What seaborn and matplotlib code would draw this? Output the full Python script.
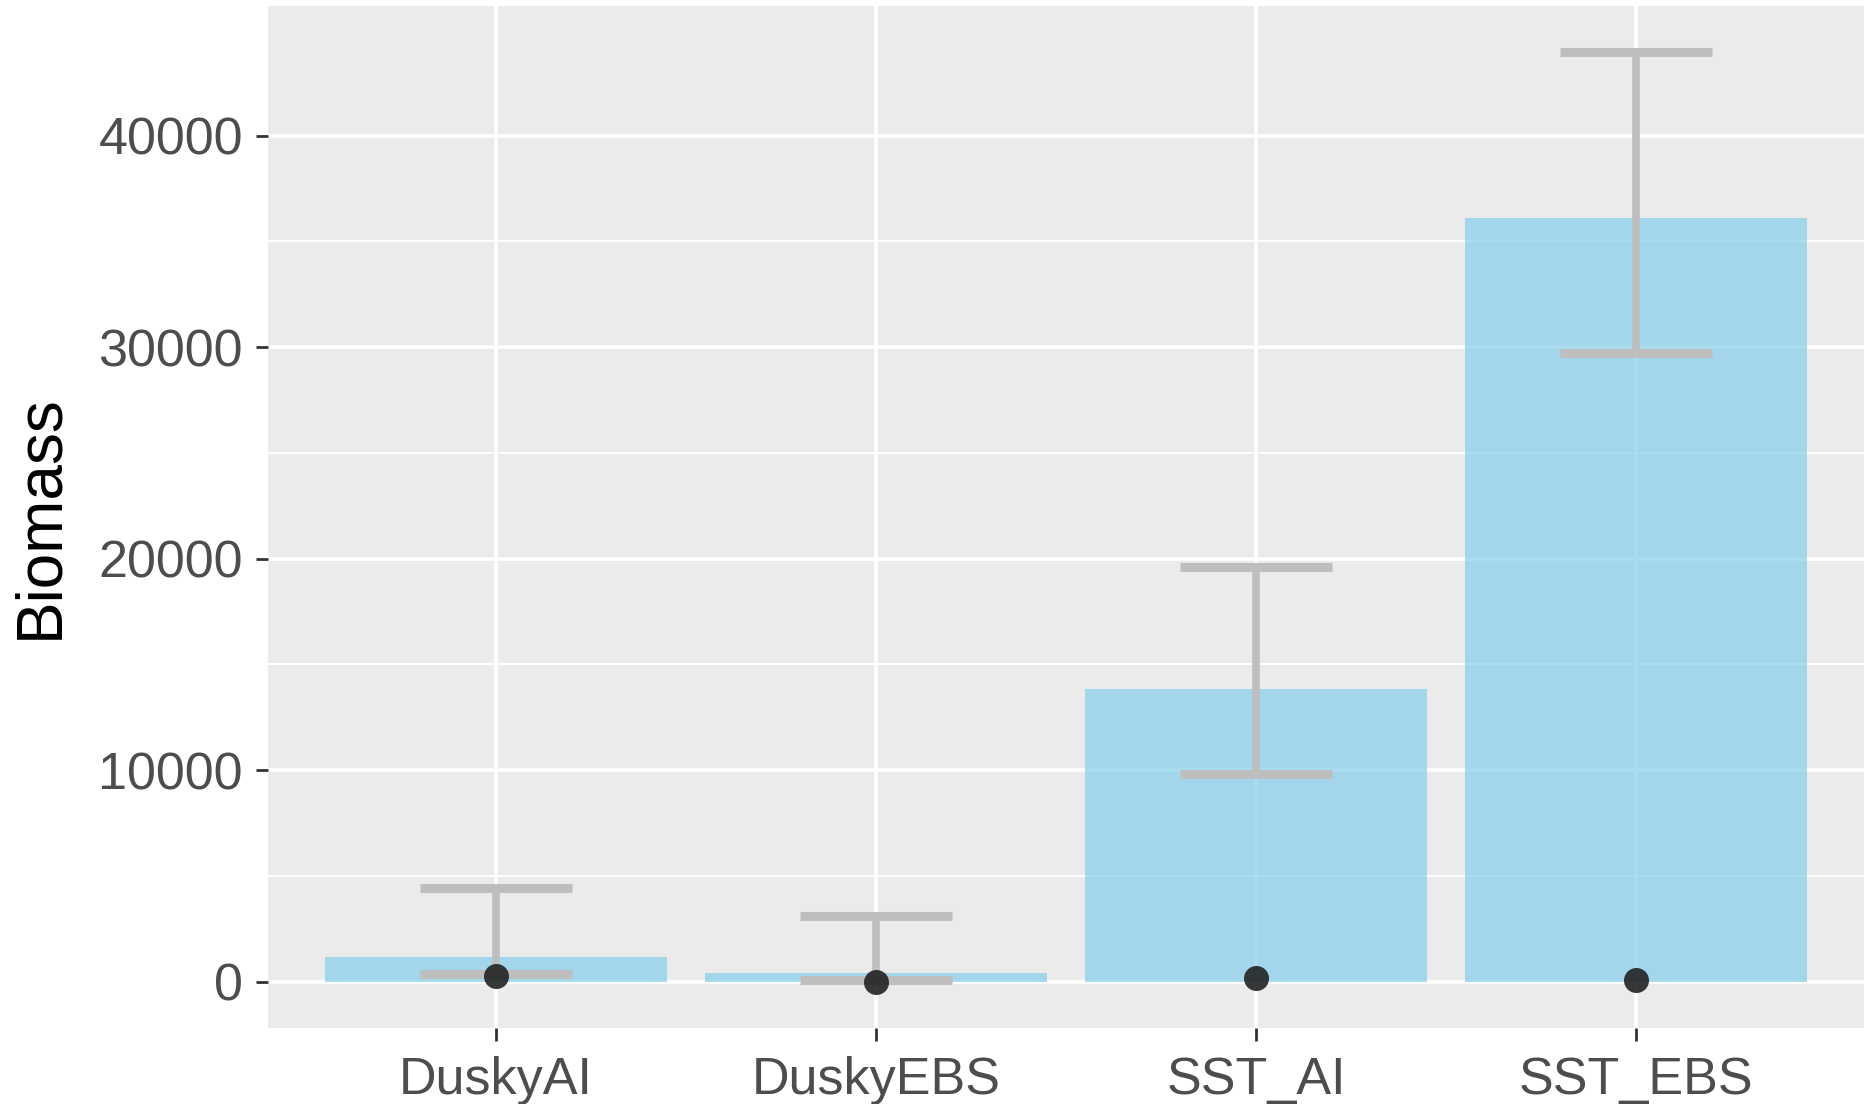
import numpy as np
import pandas as pd
import matplotlib
matplotlib.use("Agg")
import matplotlib.pyplot as plt
import seaborn as sns

categories = ["DuskyAI", "DuskyEBS", "SST_AI", "SST_EBS"]
biomass = [1180, 400, 13820, 36120]
lower = [340, 60, 9830, 29720]
upper = [4440, 3090, 19610, 43930]
observed = [280, 0, 170, 60]

df = pd.DataFrame({"group": categories, "biomass": biomass,
                   "lower": lower, "upper": upper, "obs": observed})

sns.set_theme(style="darkgrid")
plt.rcParams["font.family"] = ["Liberation Sans", "DejaVu Sans"]

fig = plt.figure(figsize=(18.64, 11.04), dpi=100)
ax = fig.add_axes([268 / 1864, 76 / 1104, 1 - 268 / 1864, 1 - 82 / 1104])
ax.set_facecolor("#EBEBEB")

sns.barplot(data=df, x="group", y="biomass", order=categories, color="#87CEEB",
            alpha=0.7, width=0.9, saturation=1, ax=ax, zorder=2, errorbar=None,
            linewidth=0)

pos = np.arange(len(categories))
ax.vlines(pos, df["lower"], df["upper"], color="#BEBEBE", linewidth=5.5, zorder=3)
ax.hlines(df["lower"], pos - 0.2, pos + 0.2, color="#BEBEBE", linewidth=6.5, zorder=3)
ax.hlines(df["upper"], pos - 0.2, pos + 0.2, color="#BEBEBE", linewidth=6.5, zorder=3)

sns.stripplot(data=df, x="group", y="obs", order=categories, jitter=False,
              color="#222222", alpha=0.9, size=18, linewidth=0, ax=ax, zorder=4)

ymin, ymax = 0, 43930
rng = ymax - ymin
ax.set_ylim(ymin - 0.05 * rng, ymax + 0.05 * rng)
ax.set_xlim(-0.6, len(categories) - 0.4)

ax.set_yticks([0, 10000, 20000, 30000, 40000])
ax.set_yticks([5000, 15000, 25000, 35000], minor=True)
ax.grid(which="major", color="white", linewidth=2.6, zorder=0)
ax.grid(which="minor", axis="y", color="white", linewidth=1.3, zorder=0)
ax.set_axisbelow(True)
for s in ax.spines.values():
    s.set_visible(False)

ax.tick_params(axis="both", which="major", length=9, width=2, color="#333333",
               labelsize=37.5, labelcolor="#4D4D4D", pad=9, left=True, bottom=True)
ax.tick_params(axis="x", which="major", pad=11)
ax.tick_params(axis="both", which="minor", length=0)
ax.set_xlabel("")
ax.set_ylabel("Biomass", fontsize=46, color="black", labelpad=20)

fig.savefig("out.png", dpi=100)
